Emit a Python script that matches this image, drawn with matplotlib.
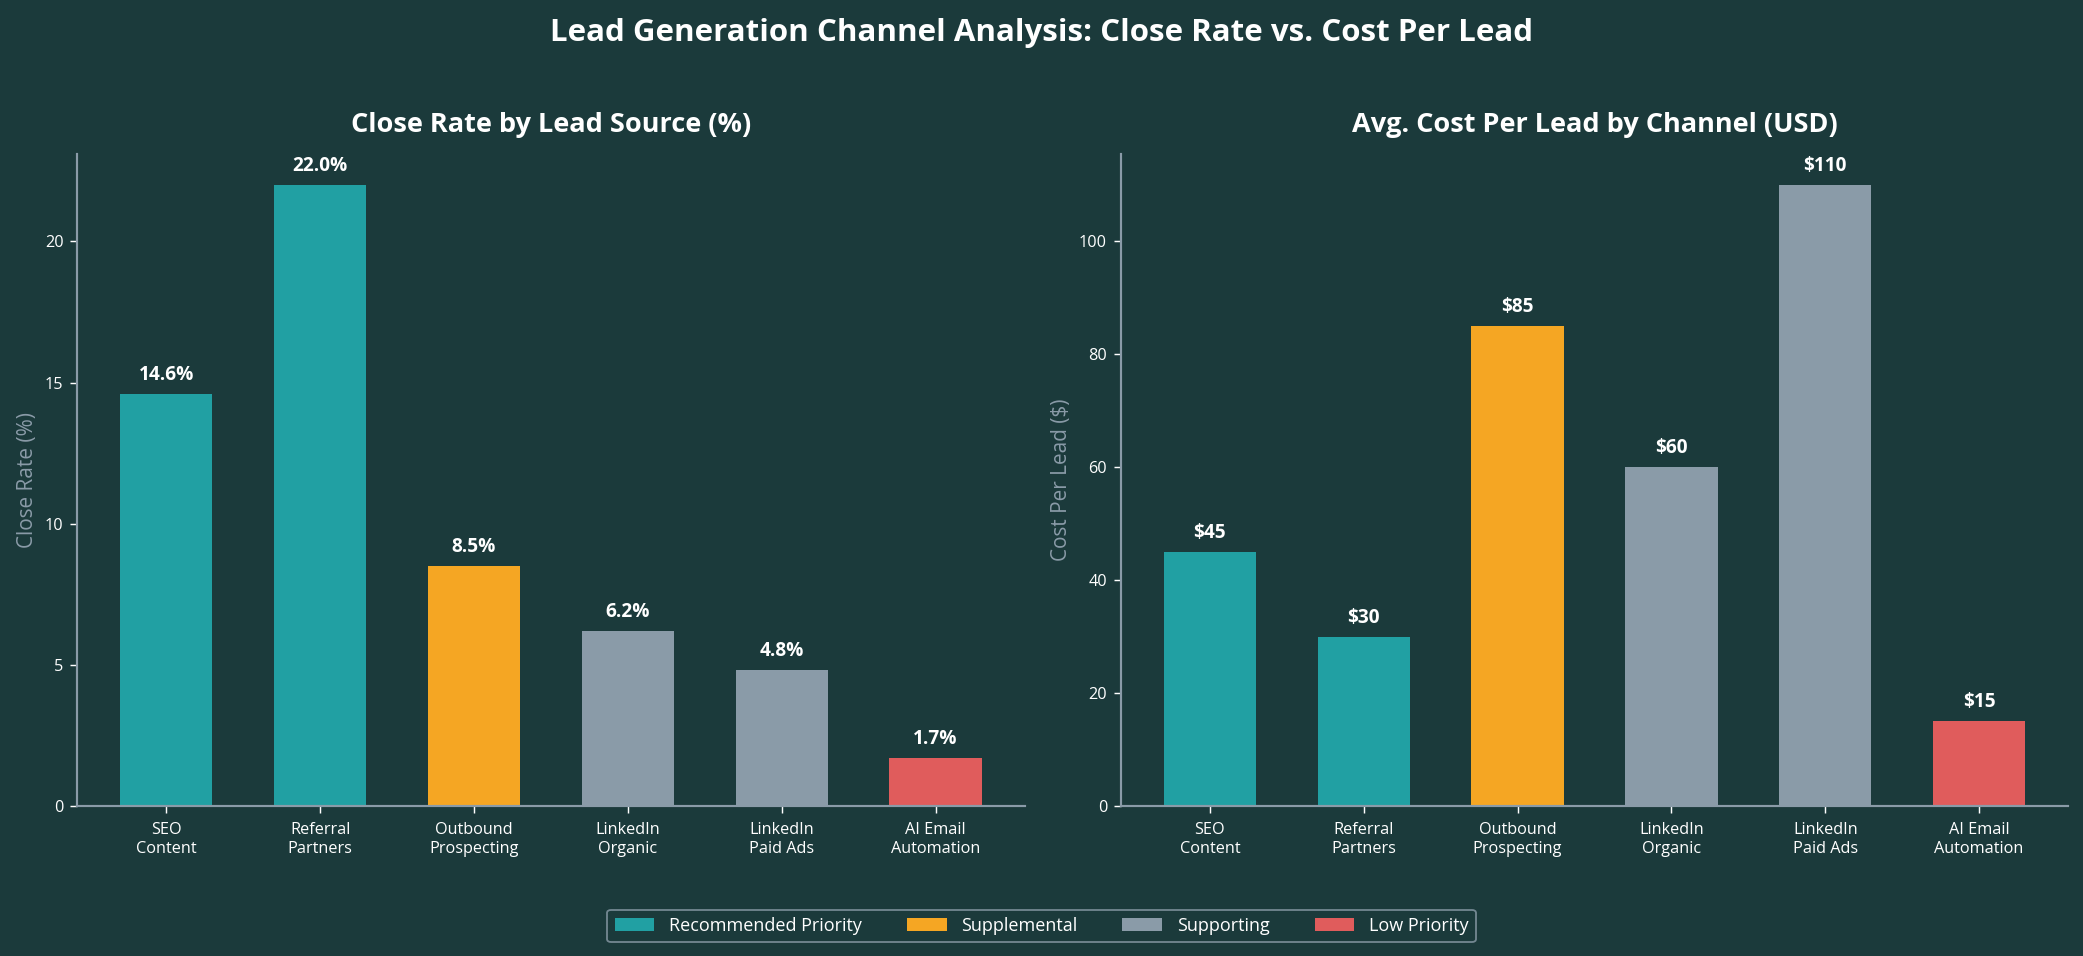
import matplotlib.pyplot as plt
from matplotlib.patches import Patch

plt.rcParams['font.family'] = ['Open Sans', 'DejaVu Sans']

# Data
channels = ["SEO\nContent", "Referral\nPartners", "Outbound\nProspecting",
            "LinkedIn\nOrganic", "LinkedIn\nPaid Ads", "AI Email\nAutomation"]
close_rate = [14.6, 22.0, 8.5, 6.2, 4.8, 1.7]
cost_per_lead = [45, 30, 85, 60, 110, 15]
tiers = ["Recommended Priority", "Recommended Priority", "Supplemental",
         "Supporting", "Supporting", "Low Priority"]

BG = "#1b3a3b"
tier_colors = {
    "Recommended Priority": "#21a0a3",
    "Supplemental": "#f5a623",
    "Supporting": "#8a9ba8",
    "Low Priority": "#e05c5c",
}
SPINE = "#8a9ba8"
colors = [tier_colors[t] for t in tiers]

fig, axes = plt.subplots(1, 2, figsize=(2083 / 130, 956 / 130), dpi=130)
fig.patch.set_facecolor(BG)
fig.subplots_adjust(left=0.037, right=0.993, top=0.839, bottom=0.157, wspace=0.101)


def style_axis(ax, title, ylabel):
    ax.set_facecolor(BG)
    for side in ["top", "right"]:
        ax.spines[side].set_visible(False)
    for side in ["left", "bottom"]:
        ax.spines[side].set_color(SPINE)
        ax.spines[side].set_linewidth(1.2)
    ax.tick_params(colors="white", labelsize=9, length=4)
    ax.tick_params(axis="x", pad=5)
    ax.set_title(title, color="white", fontsize=15, fontweight="bold", pad=12)
    ax.set_ylabel(ylabel, color=SPINE, fontsize=11.5)


x = list(range(len(channels)))

ax = axes[0]
bars = ax.bar(x, close_rate, width=0.6, color=colors)
ax.set_ylim(0, max(close_rate) * 1.05)
for b, v in zip(bars, close_rate):
    ax.annotate(f"{v:.1f}%", (b.get_x() + b.get_width() / 2, v),
                xytext=(0, 5), textcoords="offset points", ha="center", va="bottom",
                color="white", fontsize=10.5, fontweight="bold")
ax.set_xticks(x)
ax.set_xticklabels(channels)
style_axis(ax, "Close Rate by Lead Source (%)", "Close Rate (%)")

ax = axes[1]
bars = ax.bar(x, cost_per_lead, width=0.6, color=colors)
ax.set_ylim(0, max(cost_per_lead) * 1.05)
for b, v in zip(bars, cost_per_lead):
    ax.annotate(f"${v}", (b.get_x() + b.get_width() / 2, v),
                xytext=(0, 5), textcoords="offset points", ha="center", va="bottom",
                color="white", fontsize=10.5, fontweight="bold")
ax.set_xticks(x)
ax.set_xticklabels(channels)
style_axis(ax, "Avg. Cost Per Lead by Channel (USD)", "Cost Per Lead ($)")

fig.suptitle("Lead Generation Channel Analysis: Close Rate vs. Cost Per Lead",
             color="white", fontsize=17.3, fontweight="bold", y=0.966, va="center")

handles = [Patch(facecolor=c, label=t) for t, c in tier_colors.items()]
leg = fig.legend(handles=handles, loc="lower center", bbox_to_anchor=(0.5, 0.005),
                 ncol=4, frameon=True, fontsize=10, labelcolor="white",
                 facecolor=BG, edgecolor=SPINE, handlelength=2.2, columnspacing=2.5)

fig.savefig("out.png", dpi=130, facecolor=BG)
